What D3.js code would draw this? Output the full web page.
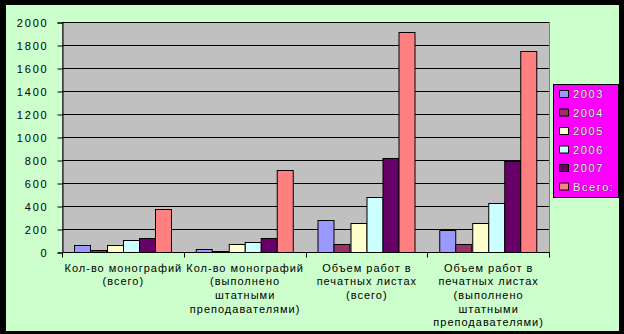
<!DOCTYPE html>
<html>
<head>
<meta charset="utf-8">
<script src="https://cdn.jsdelivr.net/npm/d3@7/dist/d3.min.js"></script>
<style>
  html, body { margin: 0; padding: 0; background: #000; }
  svg { display: block; }
  text { font-family: "Liberation Sans", Arial, sans-serif; }
</style>
</head>
<body>
<svg id="chart" width="624" height="334"></svg>
<script>
// Categories (each label split into its printed lines)
const categories = [
  "Кол-во монографий (всего)",
  "Кол-во монографий (выполнено штатными преподавателями)",
  "Объем работ в печатных листах (всего)",
  "Объем работ в печатных листах (выполнено штатными преподавателями)"
];
const categoryLines = [
  ["Кол-во монографий", "(всего)"],
  ["Кол-во монографий", "(выполнено", "штатными", "преподавателями)"],
  ["Объем работ в", "печатных листах", "(всего)"],
  ["Объем работ в", "печатных листах", "(выполнено", "штатными", "преподавателями)"]
];
const seriesNames = ["2003", "2004", "2005", "2006", "2007", "Всего:"];
const seriesColors = ["#9999FF", "#993366", "#FFFFCC", "#CCFFFF", "#660066", "#FF8080"];

// Values per series, one per category
const v2003 = [60, 30, 275, 195];
const v2004 = [15, 12, 73, 73];
const v2005 = [65, 67, 248, 248];
const v2006 = [100, 90, 480, 425];
const v2007 = [118, 118, 820, 790];
const vTotal = [370, 710, 1910, 1745];
const seriesValues = [v2003, v2004, v2005, v2006, v2007, vTotal];

const yTicks = [0, 200, 400, 600, 800, 1000, 1200, 1400, 1600, 1800, 2000];

const svg = d3.select("#chart");

// Frame: black outer border, pale green chart area
svg.append("rect").attr("x", 0).attr("y", 0).attr("width", 624).attr("height", 334).attr("fill", "#000");
svg.append("rect").attr("x", 6).attr("y", 5).attr("width", 613).attr("height", 326).attr("fill", "#CCFFCC");

const plot = { left: 62, right: 549, top: 22, bottom: 252 };

const x0 = d3.scaleBand().domain(categories).range([plot.left, plot.right]).paddingInner(0).paddingOuter(0);
const x1 = d3.scaleBand().domain(seriesNames).range([0, x0.bandwidth()]).paddingInner(0).paddingOuter(0.75);
const y = d3.scaleLinear().domain([0, 2000]).range([plot.bottom, plot.top]);

// Plot area background
svg.append("rect")
  .attr("x", plot.left + 0.5).attr("y", plot.top + 0.5)
  .attr("width", plot.right - plot.left).attr("height", plot.bottom - plot.top)
  .attr("fill", "#C0C0C0").attr("stroke", "#808080").attr("stroke-width", 1);

// Horizontal gridlines
svg.append("g").selectAll("line").data(yTicks.filter(d => d > 0)).join("line")
  .attr("x1", plot.left).attr("x2", plot.right)
  .attr("y1", d => Math.round(y(d)) + 0.5).attr("y2", d => Math.round(y(d)) + 0.5)
  .attr("stroke", "#000").attr("stroke-width", 1);

// Bars
const groups = svg.append("g").selectAll("g").data(categories).join("g")
  .attr("transform", d => `translate(${x0(d)},0)`);
groups.selectAll("rect")
  .data((c, ci) => seriesNames.map((s, si) => ({ s, si, v: seriesValues[si][ci] })))
  .join("rect")
  .attr("x", d => Math.round(x1(d.s)) + 0.5)
  .attr("y", d => Math.round(y(d.v)) + 0.5)
  .attr("width", Math.round(x1.bandwidth()))
  .attr("height", d => Math.round(y(0)) - Math.round(y(d.v)))
  .attr("fill", d => seriesColors[d.si])
  .attr("stroke", "#000").attr("stroke-width", 1);

// Y axis
const yAxis = d3.axisLeft(y).tickValues(yTicks).tickSize(5).tickPadding(9).tickFormat(d3.format("d"));
const yg = svg.append("g").attr("transform", `translate(${plot.left + 0.5},0.5)`).call(yAxis);
yg.select(".domain").attr("stroke", "#000");
yg.selectAll(".tick line").attr("stroke", "#000");
yg.selectAll(".tick text")
  .attr("fill", "#000").attr("font-size", 11).attr("letter-spacing", "1.8px")
  .attr("font-family", "Liberation Sans, Arial, sans-serif").attr("dy", "0.36em");

// X axis: line with ticks at category boundaries
const xg = svg.append("g").attr("transform", `translate(0,${plot.bottom + 0.5})`);
xg.append("line").attr("x1", plot.left).attr("x2", plot.right + 1).attr("stroke", "#000");
const bounds = categories.map(c => x0(c)).concat([plot.right]);
xg.selectAll("line.tk").data(bounds).join("line").attr("class", "tk")
  .attr("x1", d => Math.round(d) + 0.5).attr("x2", d => Math.round(d) + 0.5)
  .attr("y1", 0).attr("y2", 5).attr("stroke", "#000");

// Category labels
const lab = svg.append("g").selectAll("text").data(categories).join("text")
  .attr("text-anchor", "middle").attr("font-size", 11).attr("letter-spacing", "1px").attr("fill", "#000")
  .attr("transform", d => `translate(${x0(d) + x0.bandwidth() / 2 + 0.5},271.5)`);
lab.selectAll("tspan").data((d, i) => categoryLines[i]).join("tspan")
  .attr("x", 0).attr("y", (d, i) => i * 13.7).text(d => d);

// Legend
const legend = svg.append("g");
legend.append("rect").attr("x", 553.5).attr("y", 84.5).attr("width", 65).attr("height", 113)
  .attr("fill", "#FF00FF").attr("stroke", "#000").attr("stroke-width", 1);
const items = legend.selectAll("g.item").data(seriesNames).join("g").attr("class", "item")
  .attr("transform", (d, i) => `translate(0,${94 + i * 18.5})`);
items.append("rect").attr("x", 559.5).attr("y", -3.5).attr("width", 9).attr("height", 7)
  .attr("fill", (d, i) => seriesColors[i]).attr("stroke", "#000").attr("stroke-width", 1);
items.append("text").attr("x", 573).attr("y", 4).attr("font-size", 11).attr("letter-spacing", "1.6px")
  .attr("fill", "#F4F4F4").attr("stroke", "#333").attr("stroke-width", 0.6).attr("paint-order", "stroke")
  .text(d => d);
</script>
</body>
</html>
